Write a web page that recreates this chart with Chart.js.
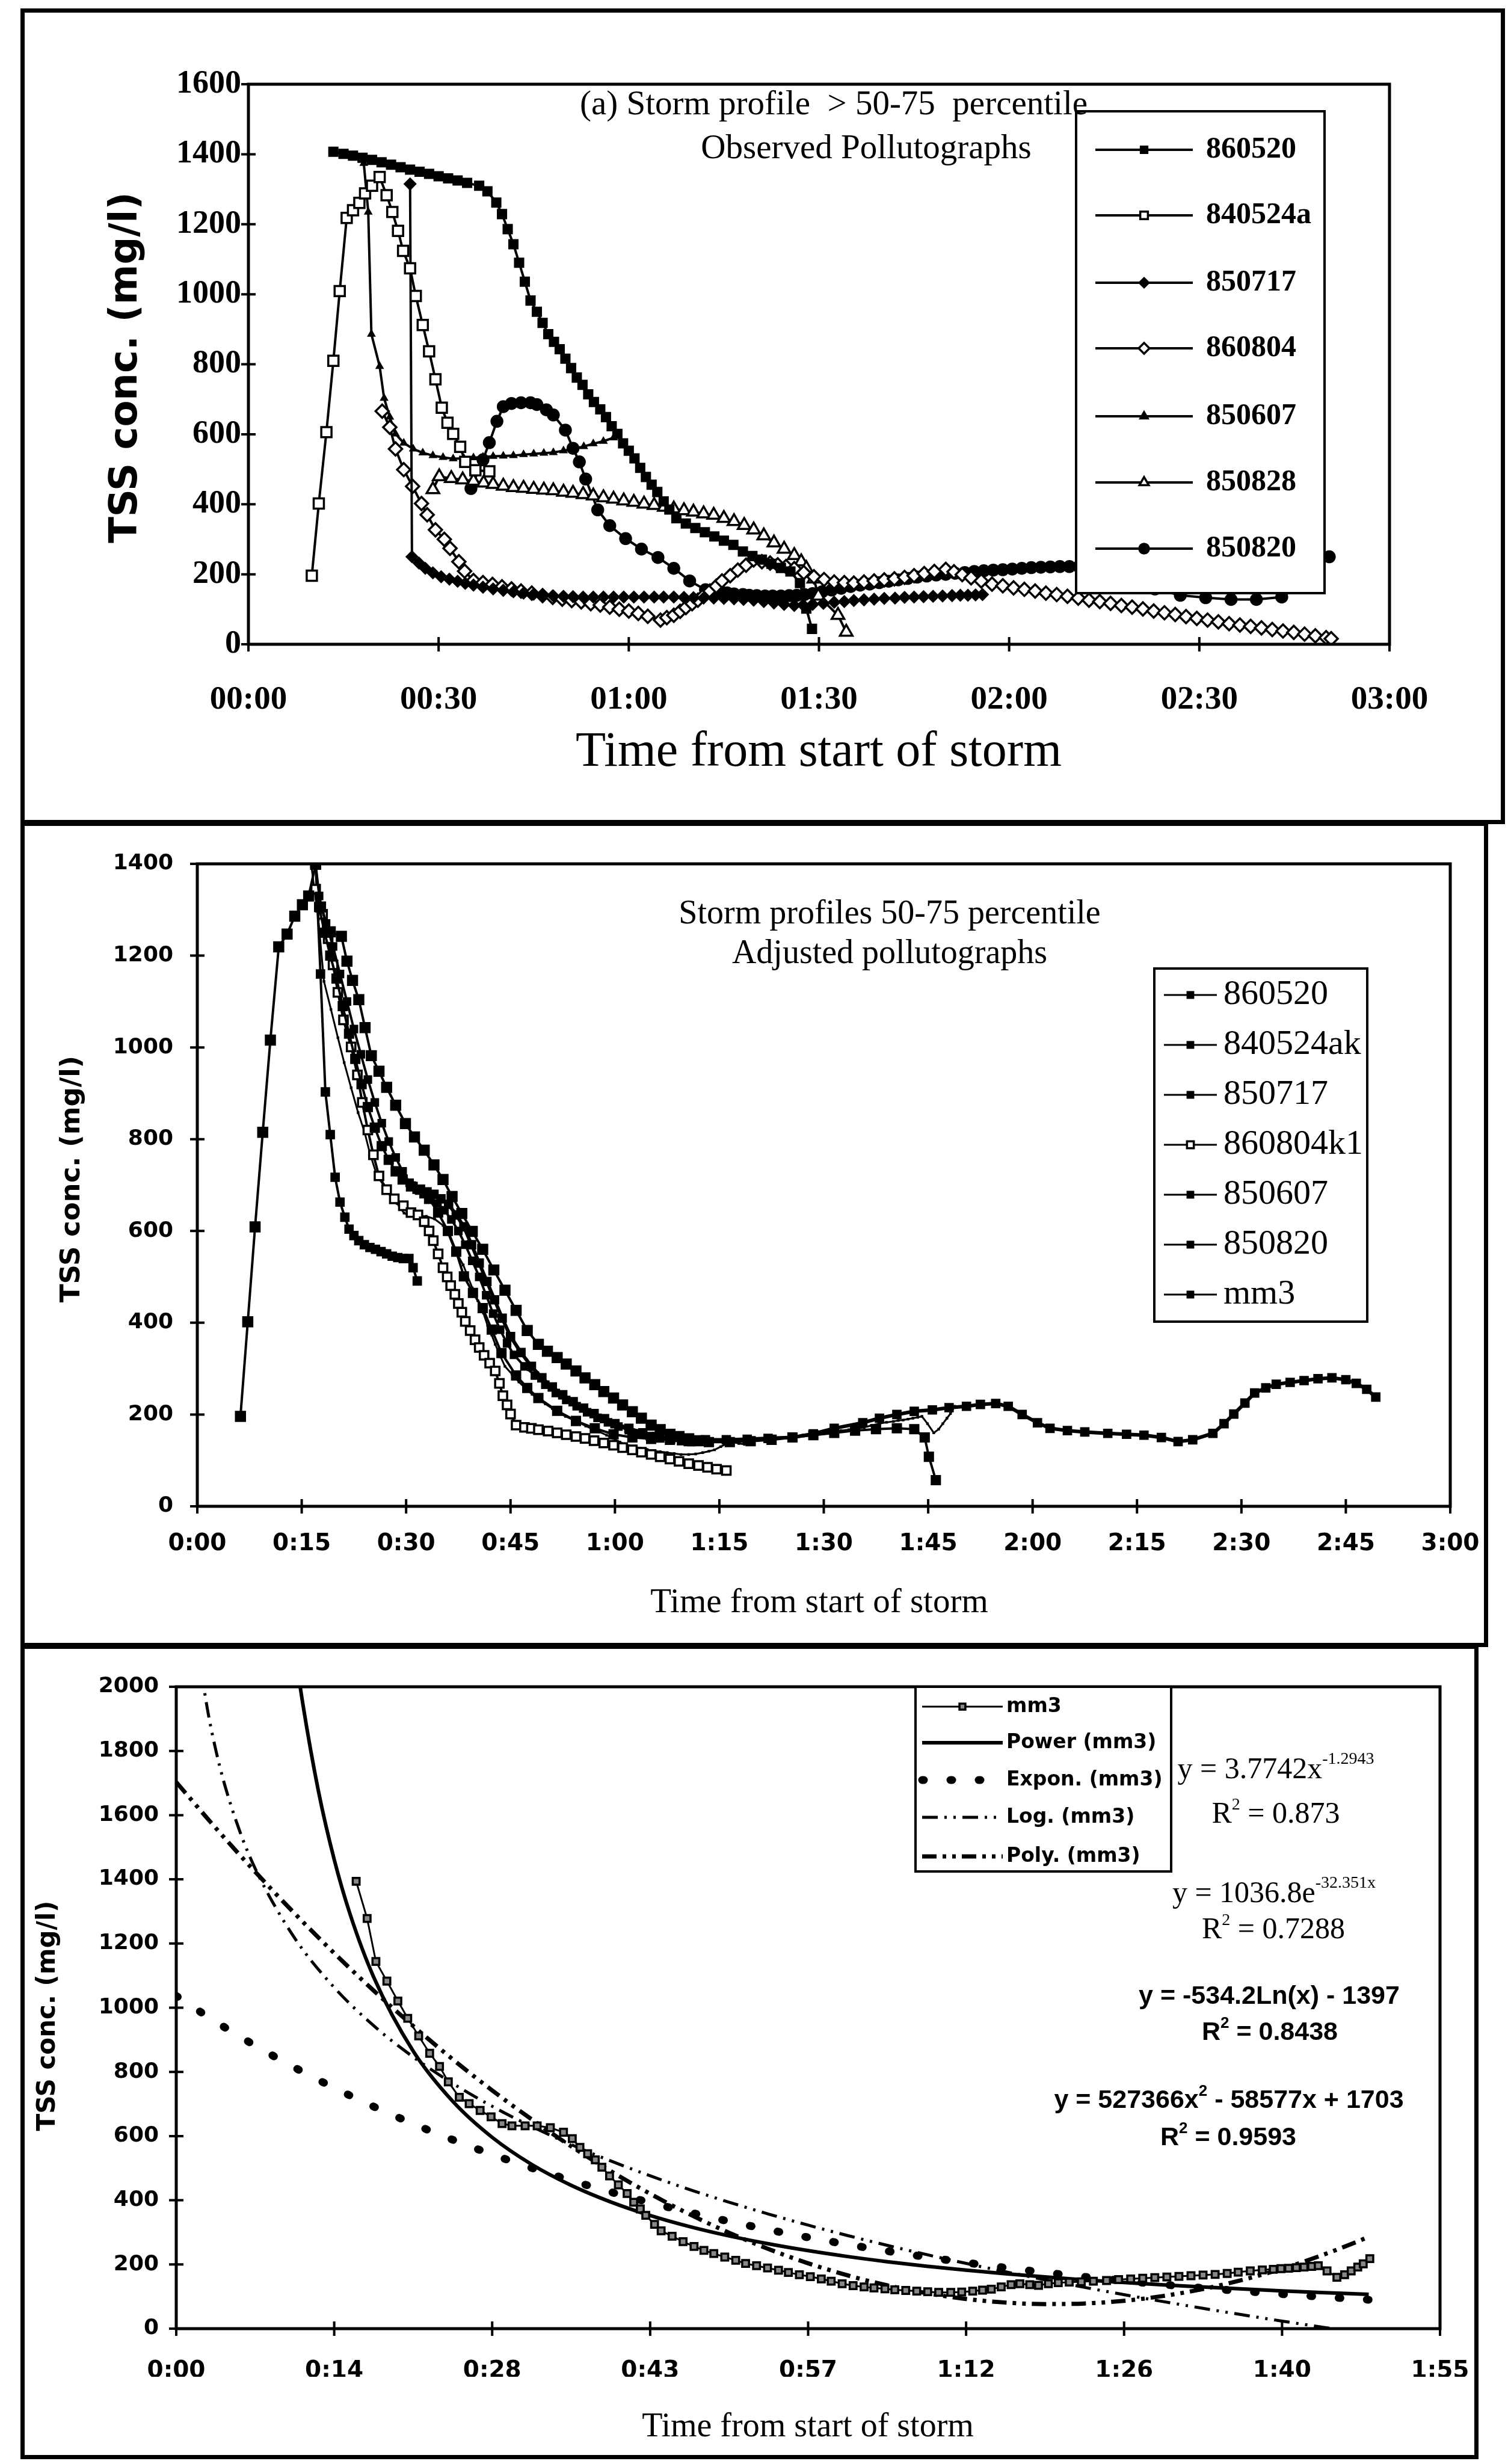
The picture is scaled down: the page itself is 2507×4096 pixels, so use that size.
<!DOCTYPE html>
<html>
<head>
<meta charset="utf-8">
<title>TSS pollutographs</title>
<script src="https://cdn.jsdelivr.net/npm/chart.js@4.4.1/dist/chart.umd.min.js"></script>
<style>
  html, body { margin: 0; padding: 0; background: #fff; }
  body { width: 2507px; height: 4096px; position: relative; overflow: hidden; }
  .panel { position: absolute; border: 7px solid #000; box-sizing: border-box; }
  canvas { position: absolute; left: 0; }
</style>
</head>
<body>
<div class="panel" style="left:34px;top:14px;width:2468px;height:1356px"></div>
<div class="panel" style="left:34px;top:1366px;width:2440px;height:1372px"></div>
<div class="panel" style="left:34px;top:2734px;width:2424px;height:1354px"></div>
<canvas id="observed" width="2507" height="1356" style="top:14px"></canvas>
<canvas id="adjusted" width="2507" height="1372" style="top:1366px"></canvas>
<canvas id="fitted" width="2507" height="1354" style="top:2734px"></canvas>
<script>
// ---- axes -------------------------------------------------------------
const obsXTicks = [0, 30, 60, 90, 120, 150, 180];
const obsXLabels = ['00:00', '00:30', '01:00', '01:30', '02:00', '02:30', '03:00'];
const obsYTicks = [0, 200, 400, 600, 800, 1000, 1200, 1400, 1600];

const adjXTicks = [0, 15, 30, 45, 60, 75, 90, 105, 120, 135, 150, 165, 180];
const adjXLabels = ['0:00', '0:15', '0:30', '0:45', '1:00', '1:15', '1:30', '1:45', '2:00', '2:15', '2:30', '2:45', '3:00'];
const adjYTicks = [0, 200, 400, 600, 800, 1000, 1200, 1400];

const fitXTicks = [0, 14.4, 28.8, 43.2, 57.6, 72, 86.4, 100.8, 115.2];
const fitXLabels = ['0:00', '0:14', '0:28', '0:43', '0:57', '1:12', '1:26', '1:40', '1:55'];
const fitYTicks = [0, 200, 400, 600, 800, 1000, 1200, 1400, 1600, 1800, 2000];

// ---- observed pollutographs (minutes from start, TSS mg/l) -------------
const obs860520T = [13.4, 15, 16.5, 18, 19.5, 21, 22.5, 24, 25.5, 27, 28.5, 30, 31.5, 33, 34.5, 36.4, 37.7, 39.1, 40, 40.9,
  41.8, 42.7, 43.6, 44.5, 45.5, 46.4, 47.3, 48.2, 49.1, 50, 50.9, 51.8, 52.7, 53.6, 54.5, 55.5, 56.4, 57.3, 58.2, 59.1,
  60, 60.9, 61.8, 62.7, 63.6, 64.5, 65.5, 66.4, 67.5, 69, 70.5, 72, 73.5, 75, 76.5, 78, 79.5, 81, 82.5, 84,
  85.5, 87, 88, 88.9];
const obs860520V = [1407, 1401, 1396, 1390, 1384, 1377, 1370, 1363, 1356, 1350, 1344, 1337, 1331, 1325, 1318, 1310, 1294, 1262, 1229, 1186,
  1143, 1090, 1036, 982, 950, 918, 886, 864, 843, 816, 789, 762, 741, 714, 692, 671, 649, 623, 601, 574,
  553, 531, 504, 478, 456, 435, 408, 385, 360, 345, 332, 320, 308, 296, 284, 265, 252, 242, 230, 218,
  208, 175, 102, 44];

const obs840524aT = [10, 11.1, 12.3, 13.4, 14.4, 15.5, 16.5, 17.5, 18.4, 19.5, 20.7, 21.8, 22.7, 23.6, 24.4, 25.5, 26.4, 27.5, 28.5, 29.5,
  30.5, 31.4, 32.3, 33.4, 34.2, 35.8, 38];
const obs840524aV = [196, 402, 606, 810, 1009, 1218, 1240, 1261, 1288, 1310, 1335, 1283, 1235, 1181, 1124, 1074, 995, 912, 837, 757,
  676, 633, 601, 564, 521, 497, 494];

const obs850717T = [25.5, 25.8, 26.9, 27.9, 29.1, 30.4, 31.7, 33, 34.2, 35.5, 37, 38.6, 40.2, 41.8, 43.4, 45, 46.5, 48.1, 49.7, 51.2,
  52.8, 54.4, 56, 57.6, 59.2, 60.8, 62.4, 64, 65.5, 67.1, 68.7, 70.2, 71.8, 73.4, 75, 76.6, 78.1, 79.7, 81.3, 82.9,
  84.5, 86.1, 87.5, 89, 90.7, 92.4, 94, 95.5, 97.1, 98.7, 100.3, 102, 103.5, 105, 106.5, 108, 109.5, 111, 112.3, 113.5,
  114.7, 115.8];
const obs850717V = [1315, 250, 232, 217, 204, 193, 186, 180, 174, 169, 163, 158, 154, 150, 146, 143, 140, 138, 137, 136,
  135, 135, 135, 135, 135, 135, 135, 135, 135, 135, 134, 133, 132, 132, 131, 130, 128, 126, 122, 118,
  114, 111, 112, 114, 117, 120, 122, 125, 127, 129, 131, 132, 134, 135, 136, 137, 138, 139, 140, 140,
  141, 142];

const obs860804T = [21.1, 22.3, 23.2, 24.5, 25.9, 27.3, 28.2, 29.5, 30.9, 31.8, 33.2, 34.1, 35.5, 37, 38.5, 40, 41.5, 43, 44.7, 46.4,
  48, 49.5, 51, 52.5, 54, 55.5, 57, 58.5, 60, 61.5, 63, 65, 66, 67.1, 68.1, 69, 70, 70.9, 71.8, 72.8,
  73.8, 74.7, 76, 77.2, 78.5, 79.7, 81, 82.3, 83.5, 84.8, 86.1, 87.6, 89.2, 90.8, 92.4, 94, 95.5, 97.1, 98.7, 100.3,
  101.9, 103.5, 105, 106.6, 108.2, 110, 111.3, 112.6, 114, 115.6, 117.3, 119, 120.7, 122.4, 124.1, 125.8, 127.5, 129.2, 130.9, 132.6,
  134.3, 136, 137.7, 139.4, 141.1, 142.8, 144.5, 146.2, 147.9, 149.6, 151.3, 153, 154.7, 156.4, 158.1, 159.8, 161.5, 163.2, 164.9, 166.6,
  168.3, 170, 170.8];
const obs860804V = [666, 620, 558, 499, 451, 402, 370, 327, 300, 274, 236, 209, 182, 176, 171, 164, 158, 152, 146, 139,
  134, 129, 125, 121, 116, 112, 106, 100, 95, 88, 80, 69, 76, 83, 94, 105, 116, 126, 139, 152,
  166, 181, 196, 212, 226, 241, 236, 232, 227, 222, 216, 205, 193, 185, 178, 176, 175, 178, 181, 184,
  187, 191, 196, 202, 208, 214, 207, 199, 190, 181, 172, 167, 161, 157, 152, 146, 142, 137, 132, 126,
  122, 117, 111, 106, 101, 95, 90, 85, 79, 74, 69, 64, 59, 55, 51, 47, 42, 38, 34, 29,
  24, 19, 16];

const obs850607T = [18.2, 18.9, 19.4, 20.7, 21.4, 22.3, 23.2, 24.5, 26, 27.5, 29.1, 30.7, 32.3, 34, 35.5, 37, 38.6, 40.2, 41.8, 43.4,
  45, 46.6, 48.1, 49.7, 51.3, 52.9, 54.4, 56, 57.6];
const obs850607V = [1374, 1235, 886, 794, 703, 649, 601, 575, 558, 547, 539, 534, 530, 531, 533, 535, 537, 538, 539, 542,
  544, 546, 548, 553, 558, 565, 573, 580, 590];

const obs850828T = [29.1, 30.1, 32, 33.8, 35.5, 37.1, 38.6, 40.2, 41.8, 43.4, 45, 46.6, 48.1, 49.7, 51.2, 52.8, 54.4, 56, 57.6, 59.2,
  60.8, 62.4, 64, 65.6, 67.1, 68.7, 70.2, 71.8, 73.4, 75, 76.6, 78.2, 79.7, 81.3, 82.9, 84.5, 86.1, 87.2, 88, 89.2,
  89.9, 93, 94.3];
const obs850828V = [442, 479, 474, 470, 466, 461, 457, 452, 448, 446, 443, 441, 439, 435, 432, 428, 424, 419, 415, 410,
  406, 401, 397, 392, 387, 382, 378, 373, 369, 360, 351, 340, 327, 310, 290, 272, 254, 236, 217, 187,
  138, 83, 35];

const obs850820T = [35.1, 37, 38, 39.2, 40.2, 41.5, 43, 44.5, 45.5, 47, 48.1, 50, 51.2, 52.2, 53.2, 55.1, 57, 59.5, 62, 64.6,
  67.1, 69.6, 72.1, 73.5, 74.5, 75.5, 76.6, 78, 79, 80.2, 81.5, 82.7, 84, 85.3, 86.5, 87.7, 89, 90.5, 92, 93.5,
  95, 96.5, 98, 99.5, 101, 102.5, 104, 105.5, 107, 108.5, 110, 111.5, 113, 114.5, 116, 117.5, 119, 120.5, 122, 123.5,
  125, 126.5, 128, 129.5, 131, 135, 139, 143, 147, 151, 155, 159, 163, 166, 168.5, 170.5];
const obs850820V = [445, 527, 576, 637, 679, 688, 690, 690, 685, 670, 655, 612, 560, 521, 472, 384, 339, 302, 272, 248,
  217, 181, 156, 152, 150, 147, 144, 142, 140, 139, 138, 138, 138, 139, 140, 142, 145, 150, 155, 160,
  165, 169, 172, 176, 180, 184, 188, 192, 195, 198, 200, 203, 205, 208, 210, 212, 213, 215, 217, 219,
  220, 221, 222, 222, 222, 210, 185, 158, 140, 133, 128, 128, 135, 170, 220, 250];

// ---- adjusted pollutographs ---------------------------------------------
const adj860520T = [6.2, 7.25, 8.3, 9.4, 10.5, 11.7, 12.9, 14, 15.1, 16, 17, 17.7, 19.1, 20.7, 21.5, 22.3, 23.2, 24.1, 25, 26.1,
  27.2, 28.5, 29.9, 31.2, 32.6, 34, 35.3, 36.6, 38, 39.5, 41, 42.6, 44.2, 45.8, 47.4, 49, 50.3, 51.7, 53, 54.4,
  55.7, 57.1, 58.4, 59.8, 61.1, 62.5, 63.8, 65.2, 66.5, 67.9, 69.2, 70.6, 72];
const adj860520V = [196, 402, 609, 815, 1016, 1219, 1247, 1286, 1311, 1330, 1399, 1306, 1252, 1242, 1188, 1146, 1104, 1043, 982, 948,
  913, 874, 834, 805, 776, 744, 712, 675, 638, 599, 560, 515, 471, 427, 383, 353, 338, 324, 310, 295,
  280, 265, 250, 236, 221, 206, 192, 177, 167, 157, 152, 147, 143];

const adj840524akT = [17.5, 18.5, 19.5, 20.5, 21.5, 22.5, 23.5, 24.5, 25.5, 26.5, 27.5, 28.5, 29.5, 30.5, 31.5, 32.5, 33.5, 34.5, 35.5, 36.5,
  37.5, 38.5, 39.5, 40.5, 41.5, 42.5, 43.5, 44.5, 45.5, 47, 48.5, 50, 51.5, 53, 54.5, 56, 57.5, 59, 60.5, 62,
  63.5, 65, 66.5, 68, 69.5, 71];
const adj840524akV = [1330, 1270, 1220, 1160, 1100, 1040, 985, 930, 880, 835, 795, 760, 730, 705, 690, 680, 670, 660, 645, 625,
  600, 570, 535, 500, 460, 420, 385, 355, 330, 305, 285, 265, 247, 232, 218, 205, 193, 183, 174, 166,
  159, 153, 148, 145, 142, 140];

const adj850717T = [17.5, 18.3, 19.1, 20, 20.9, 21.8, 22.7, 23.6, 24.5, 25.5, 26.5, 27.5, 28.5, 29.5, 30.7, 32, 33.3, 34.6, 36, 37.2,
  38.3, 39.6, 41, 42.3, 43.7, 45.8, 47.4, 49, 51.7, 54.4, 57.1, 59.8, 62.5, 65.2, 67.9, 70.6, 73.5, 76.5, 79.5, 82.5,
  85.5, 88.5, 91.5, 94.5, 97.5, 100.5, 103, 104.5, 105.1, 106.1];
const adj850717V = [1306, 1250, 1200, 1150, 1090, 1030, 975, 920, 870, 825, 785, 755, 730, 712, 697, 690, 670, 640, 600, 555,
  501, 465, 432, 385, 334, 285, 258, 236, 208, 186, 170, 157, 150, 147, 145, 142, 140, 140, 142, 145,
  150, 155, 160, 165, 168, 170, 168, 150, 108, 57];

const adj860804k1T = [17, 18, 18.8, 19.5, 20.2, 21, 22.1, 23, 23.7, 24.5, 25.3, 26.1, 27.2, 28.3, 29.6, 30.7, 31.7, 32.6, 33.3, 33.9,
  34.6, 35.3, 35.9, 36.4, 37, 37.5, 38, 38.5, 39.2, 39.9, 40.5, 41.2, 42, 42.8, 43.4, 43.9, 44.5, 45, 45.8, 47,
  48, 49, 50.4, 51.7, 53, 54.4, 55.7, 57, 58.4, 59.8, 61.1, 62.5, 63.8, 65.2, 66.5, 67.9, 69.2, 70.6, 72, 73.3,
  74.6, 76];
const adj860804k1V = [1345, 1290, 1237, 1180, 1120, 1060, 1001, 940, 880, 820, 766, 720, 690, 670, 655, 640, 635, 620, 600, 579,
  550, 520, 500, 481, 462, 442, 423, 403, 383, 363, 346, 329, 312, 295, 268, 241, 221, 201, 177, 172,
  170, 167, 164, 160, 156, 152, 148, 143, 138, 133, 128, 123, 118, 113, 108, 103, 98, 93, 89, 85,
  81, 78];

const adj850607T = [17, 17.7, 18.4, 19.1, 19.8, 20.5, 21.2, 21.8, 22.5, 23.2, 24, 24.8, 25.6, 26.4, 27.2, 28, 28.8, 29.6, 30.4, 31,
  31.6];
const adj850607V = [1399, 1160, 903, 810, 717, 663, 630, 604, 590, 579, 570, 564, 560, 555, 550, 545, 542, 540, 540, 520,
  491];

const adj850820T = [31, 32, 33, 34, 35, 36.1, 37.2, 38.3, 39.4, 40.5, 41.6, 42.7, 43.8, 45, 46.5, 48, 49.5, 51, 52.5, 54,
  55.5, 57, 58.5, 60, 62, 64, 66, 68, 70.4, 73, 76, 79, 82, 85.5, 88.5, 91.5, 95.6, 98, 100.5, 103,
  105.6, 108, 110.5, 112.5, 114.7, 116.5, 118.5, 120.7, 122.5, 125, 127.5, 130.8, 133.5, 136, 138.5, 140.9, 143, 145.9, 147.5, 148.9,
  150.5, 151.9, 153.5, 155, 157, 159, 161, 163, 165, 166.5, 168, 169.3];
const adj850820V = [697, 690, 685, 680, 670, 658, 635, 609, 570, 530, 490, 450, 410, 370, 335, 305, 280, 260, 243, 228,
  214, 202, 191, 180, 170, 160, 152, 147, 145, 145, 145, 146, 148, 150, 158, 170, 182, 192, 200, 207,
  210, 215, 218, 222, 224, 218, 200, 182, 170, 165, 162, 159, 157, 155, 150, 141, 145, 159, 180, 201,
  225, 247, 258, 266, 270, 274, 278, 280, 276, 268, 255, 238];

// mean profile, shared by the adjusted and fitted panels
const mm3T = [16.4, 17.4, 18.2, 19.2, 20.2, 21.1, 22.1, 23.1, 24, 24.8, 25.8, 26.7, 27.7, 28.7, 29.7, 30.6, 31.8, 32.9, 34.1, 35.3,
  36.1, 36.8, 37.5, 38.2, 38.8, 39.5, 40.3, 41.1, 41.7, 42.3, 42.8, 43.6, 44.2, 45.2, 46.2, 47.2, 48.1, 49, 50, 51,
  51.9, 52.9, 53.9, 54.9, 55.8, 56.8, 57.8, 58.8, 59.7, 60.7, 61.7, 62.7, 63.6, 64.6, 65.5, 66.5, 67.5, 68.5, 69.5, 70.6,
  71.6, 72.6, 73.5, 74.3, 75.2, 76.1, 76.9, 77.8, 78.6, 79.5, 80.4, 81.4, 82.5, 83.6, 84.8, 85.9, 87, 88.1, 89.2, 90.3,
  91.4, 92.5, 93.6, 94.7, 95.8, 96.8, 97.9, 99, 100, 100.7, 101.4, 102.1, 102.8, 103.5, 104.1, 104.9, 105.8, 106.5, 107.1, 107.7,
  108.2, 108.8];
const mm3V = [1394, 1278, 1144, 1083, 1021, 967, 912, 858, 817, 769, 721, 701, 680, 660, 639, 632, 632, 632, 626, 612,
  592, 565, 545, 526, 503, 476, 448, 421, 394, 373, 353, 325, 305, 288, 271, 256, 244, 234, 223, 213,
  203, 196, 189, 182, 175, 168, 162, 155, 148, 140, 134, 130, 127, 124, 121, 119, 117, 115, 113, 113,
  114, 117, 120, 123, 130, 137, 140, 137, 135, 140, 143, 145, 146, 148, 150, 153, 155, 157, 159, 161,
  163, 165, 167, 169, 172, 176, 180, 183, 185, 187, 188, 190, 192, 194, 196, 180, 160, 168, 180, 192,
  202, 218];

// ---- trend lines through mm3 -------------------------------------------
const powerT = [10.08, 10.8, 11.52, 12.96, 14.4, 15.84, 18, 21.6, 25.2, 28.8, 32.4, 36, 39.6, 43.2, 46.8, 50.4, 54, 57.6, 61.2, 64.8,
  68.4, 72, 75.6, 79.2, 82.8, 86.4, 90, 93.6, 97.2, 100.8, 104.4, 108, 108.7];
const powerV = [2318.9, 2120.8, 1950.7, 1675.1, 1461.6, 1292.1, 1095.1, 864.9, 708.5, 596.1, 511.8, 446.6, 394.8, 352.7, 318.0, 288.9, 264.3, 243.1, 224.7, 208.7,
  194.6, 182.1, 171.0, 161.0, 152.0, 143.8, 136.4, 129.7, 123.5, 117.8, 112.6, 107.8, 106.8];

const expT = [0, 3.6, 7.2, 10.8, 14.4, 18, 21.6, 25.2, 28.8, 32.4, 36, 39.6, 43.2, 46.8, 50.4, 54, 57.6, 61.2, 64.8, 68.4,
  72, 75.6, 79.2, 82.8, 86.4, 90, 93.6, 97.2, 100.8, 104.4, 108, 108.7];
const expV = [1036.8, 956.2, 881.9, 813.4, 750.2, 691.9, 638.2, 588.6, 542.9, 500.7, 461.8, 425.9, 392.8, 362.3, 334.2, 308.2, 284.3, 262.2, 241.8, 223.0,
  205.7, 189.7, 175.0, 161.4, 148.8, 137.3, 126.6, 116.8, 107.7, 99.3, 91.6, 90.1];

const logT = [2.16, 2.88, 3.6, 4.32, 5.76, 7.2, 10.8, 14.4, 18, 21.6, 25.2, 28.8, 32.4, 36, 39.6, 43.2, 46.8, 50.4, 54, 57.6,
  61.2, 64.8, 68.4, 72, 75.6, 79.2, 82.8, 86.4, 90, 93.6, 97.2, 100.8, 104.4, 108, 108.7];
const logV = [2076.5, 1922.8, 1803.7, 1706.2, 1552.6, 1433.4, 1216.8, 1063.1, 943.9, 846.5, 764.2, 692.8, 629.9, 573.6, 522.7, 476.2, 433.4, 393.9, 357.0, 322.5,
  290.1, 259.6, 230.7, 203.3, 177.2, 152.4, 128.6, 105.9, 84.1, 63.2, 43.0, 23.6, 4.9, -13.3, -16.9];

const polyT = expT;
const polyV = [1703, 1559.9, 1423.3, 1293.4, 1170.0, 1053.2, 943.0, 839.4, 742.4, 652.0, 568.2, 490.9, 420.3, 356.2, 298.8, 248.0, 203.7, 166.0, 134.9, 110.5,
  92.5, 81.3, 76.6, 78.4, 86.9, 101.9, 123.6, 151.9, 186.7, 228.2, 276.1, 286.5];

// ---- helpers -------------------------------------------------------------
const SERIF = '"Liberation Serif", "Times New Roman", serif';
const WIDE = '"DejaVu Sans", Verdana, sans-serif';
const SANS = '"Liberation Sans", Arial, sans-serif';

function pts(t, v) { return t.map((x, i) => ({ x, y: v[i] })); }

function marked(label, t, v, style, radius, fill, width) {
  return {
    label, data: pts(t, v),
    borderColor: '#000', borderWidth: width || 4,
    pointStyle: style, pointRadius: radius, pointHoverRadius: radius,
    pointBackgroundColor: fill, pointBorderColor: '#000',
    pointBorderWidth: fill === '#000' ? 1.5 : 3.5,
    tension: 0
  };
}

function trend(label, t, v, width, dash, cap) {
  return {
    label, data: pts(t, v),
    borderColor: '#000', borderWidth: width, borderDash: dash, borderCapStyle: cap || 'butt',
    pointRadius: 0, cubicInterpolationMode: 'monotone'
  };
}

// plot frame plus small ticks crossing both axes
const framePlugin = {
  id: 'frame',
  afterDatasetsDraw(chart) {
    const { ctx, chartArea: a, scales: { x, y } } = chart;
    const k = 12;
    ctx.save();
    ctx.strokeStyle = '#000';
    ctx.lineWidth = 5;
    ctx.strokeRect(a.left, a.top, a.right - a.left, a.bottom - a.top);
    ctx.lineWidth = 4;
    ctx.beginPath();
    x.ticks.forEach(t => {
      const px = x.getPixelForValue(t.value);
      ctx.moveTo(px, a.bottom - k); ctx.lineTo(px, a.bottom + k);
    });
    y.ticks.forEach(t => {
      const py = y.getPixelForValue(t.value);
      ctx.moveTo(a.left - k, py); ctx.lineTo(a.left + k, py);
    });
    ctx.stroke();
    ctx.restore();
  }
};

function text(ctx, s, x, y, font) {
  ctx.font = font;
  ctx.fillStyle = '#000';
  ctx.textAlign = 'center';
  ctx.textBaseline = 'alphabetic';
  ctx.fillText(s, x, y);
}

function vtext(ctx, s, x, y, font) {
  ctx.save();
  ctx.translate(x, y);
  ctx.rotate(-Math.PI / 2);
  ctx.font = font;
  ctx.fillStyle = '#000';
  ctx.textAlign = 'center';
  ctx.textBaseline = 'middle';
  ctx.fillText(s, 0, 0);
  ctx.restore();
}

// centred text made of normal and superscript pieces
function rich(ctx, parts, cx, y, font, supFont, rise) {
  let w = 0;
  parts.forEach(([s, sup]) => { ctx.font = sup ? supFont : font; w += ctx.measureText(s).width; });
  let x = cx - w / 2;
  ctx.fillStyle = '#000';
  ctx.textAlign = 'left';
  ctx.textBaseline = 'alphabetic';
  parts.forEach(([s, sup]) => {
    ctx.font = sup ? supFont : font;
    ctx.fillText(s, x, sup ? y - rise : y);
    x += ctx.measureText(s).width;
  });
}

// legend box drawn from the chart's own datasets
function legendBox(chart, b) {
  const ctx = chart.ctx;
  ctx.save();
  ctx.fillStyle = '#fff';
  ctx.fillRect(b.left, b.top, b.right - b.left, b.bottom - b.top);
  ctx.strokeStyle = '#000';
  ctx.lineWidth = b.border;
  ctx.strokeRect(b.left, b.top, b.right - b.left, b.bottom - b.top);
  chart.data.datasets.forEach((ds, i) => {
    const y = b.rows[i];
    ctx.strokeStyle = '#000';
    ctx.lineWidth = b.lineWidth || ds.borderWidth;
    ctx.setLineDash(ds.borderDash || []);
    ctx.lineCap = ds.borderCapStyle || 'butt';
    ctx.beginPath();
    ctx.moveTo(b.x0, y);
    ctx.lineTo(b.x1, y);
    ctx.stroke();
    ctx.setLineDash([]);
    ctx.lineCap = 'butt';
    if (ds.pointRadius > 0) {
      ctx.fillStyle = ds.pointBackgroundColor;
      ctx.lineWidth = ds.pointBorderWidth;
      Chart.helpers.drawPoint(ctx, {
        pointStyle: ds.pointStyle, radius: b.markR || ds.pointRadius,
        rotation: 0, borderWidth: ds.pointBorderWidth
      }, (b.x0 + b.x1) / 2, y);
    }
    ctx.fillStyle = '#000';
    ctx.font = b.font;
    ctx.textAlign = 'left';
    ctx.textBaseline = 'middle';
    ctx.fillText(ds.label, b.textX, y);
  });
  ctx.restore();
}

function makeChart(id, cfg) {
  const canvas = document.getElementById(id);
  const W = canvas.width, H = canvas.height, a = cfg.area, xs = cfg.x, ys = cfg.y;
  return new Chart(canvas, {
    type: 'line',
    data: { datasets: cfg.datasets },
    options: {
      responsive: false,
      animation: false,
      devicePixelRatio: 1,
      events: [],
      layout: { padding: { left: 0, top: a.top, right: W - a.right, bottom: H - a.bottom - xs.height } },
      plugins: { legend: { display: false }, tooltip: { enabled: false } },
      scales: {
        x: {
          type: 'linear',
          min: xs.ticks[0], max: xs.ticks[xs.ticks.length - 1],
          afterBuildTicks: s => { s.ticks = xs.ticks.map(value => ({ value })); },
          afterFit: s => { s.height = xs.height; },
          grid: { display: false, drawTicks: false },
          border: { display: false },
          ticks: {
            autoSkip: false, maxRotation: 0, minRotation: 0, padding: xs.pad,
            font: xs.font, color: '#000', callback: (v, i) => xs.labels[i]
          }
        },
        y: {
          type: 'linear',
          min: ys.ticks[0], max: ys.ticks[ys.ticks.length - 1],
          afterBuildTicks: s => { s.ticks = ys.ticks.map(value => ({ value })); },
          afterFit: s => { s.width = a.left; },
          grid: { display: false, drawTicks: false },
          border: { display: false },
          ticks: { autoSkip: false, padding: ys.pad, font: ys.font, color: '#000', callback: v => String(v) }
        }
      }
    },
    plugins: [framePlugin, { id: 'deco', afterDraw: cfg.deco }]
  });
}

// ---- (a) observed ----------------------------------------------------------
makeChart('observed', {
  area: { left: 413, top: 126, right: 2310, bottom: 1057 },
  x: { ticks: obsXTicks, labels: obsXLabels, height: 110, pad: 60, font: { family: SERIF, size: 55, weight: 'bold' } },
  y: { ticks: obsYTicks, pad: 12, font: { family: SERIF, size: 54, weight: 'bold' } },
  datasets: [
    marked('860520', obs860520T, obs860520V, 'rect', 11, '#000'),
    marked('840524a', obs840524aT, obs840524aV, 'rect', 12, '#fff'),
    marked('850717', obs850717T, obs850717V, 'rectRot', 10, '#000'),
    marked('860804', obs860804T, obs860804V, 'rectRot', 11, '#fff'),
    marked('850607', obs850607T, obs850607V, 'triangle', 7, '#000'),
    marked('850828', obs850828T, obs850828V, 'triangle', 12, '#fff'),
    marked('850820', obs850820T, obs850820V, 'circle', 10, '#000')
  ],
  deco(chart) {
    const ctx = chart.ctx;
    legendBox(chart, {
      left: 1789, right: 2202, top: 171, bottom: 972, border: 4,
      rows: [235, 344, 456, 565, 678, 788, 898],
      x0: 1821, x1: 1983, textX: 2005, lineWidth: 4, markR: 9,
      font: 'bold 50px ' + SERIF
    });
    text(ctx, '(a) Storm profile  > 50-75  percentile', 1386, 176, '57px ' + SERIF);
    text(ctx, 'Observed Pollutographs', 1440, 249, '57px ' + SERIF);
    text(ctx, 'Time from start of storm', 1361, 1259, '82px ' + SERIF);
    vtext(ctx, 'TSS conc. (mg/l)', 210, 597, 'bold 64px ' + WIDE);
  }
});

// ---- adjusted ----------------------------------------------------------------
makeChart('adjusted', {
  area: { left: 328, top: 70, right: 2411, bottom: 1138 },
  x: { ticks: adjXTicks, labels: adjXLabels, height: 80, pad: 39, font: { family: WIDE, size: 39, weight: 'bold' } },
  y: { ticks: adjYTicks, pad: 40, font: { family: WIDE, size: 36, weight: 'bold' } },
  datasets: [
    marked('860520', adj860520T, adj860520V, 'rect', 12, '#000'),
    marked('840524ak', adj840524akT, adj840524akV, 'rect', 9, '#000'),
    marked('850717', adj850717T, adj850717V, 'rect', 11, '#000'),
    marked('860804k1', adj860804k1T, adj860804k1V, 'rect', 10, '#fff'),
    marked('850607', adj850607T, adj850607V, 'rect', 10, '#000'),
    marked('850820', adj850820T, adj850820V, 'rect', 10, '#000', 6),
    marked('mm3', mm3T, mm3V, 'rect', 2, '#000', 3)
  ],
  deco(chart) {
    const ctx = chart.ctx;
    legendBox(chart, {
      left: 1919, right: 2273, top: 244, bottom: 831, border: 4,
      rows: [288, 371, 454, 537, 620, 703, 786],
      x0: 1935, x1: 2023, textX: 2034, lineWidth: 3, markR: 8,
      font: '58px ' + SERIF
    });
    text(ctx, 'Storm profiles 50-75 percentile', 1479, 169, '56px ' + SERIF);
    text(ctx, 'Adjusted pollutographs', 1479, 235, '56px ' + SERIF);
    text(ctx, 'Time from start of storm', 1362, 1314, '57px ' + SERIF);
    vtext(ctx, 'TSS conc. (mg/l)', 120, 594, 'bold 45px ' + WIDE);
  }
});

// ---- mm3 with fitted trend lines ----------------------------------------------
makeChart('fitted', {
  area: { left: 293, top: 70, right: 2394, bottom: 1137 },
  x: { ticks: fitXTicks, labels: fitXLabels, height: 80, pad: 47, font: { family: WIDE, size: 39, weight: 'bold' } },
  y: { ticks: fitYTicks, pad: 29, font: { family: WIDE, size: 36, weight: 'bold' } },
  datasets: [
    marked('mm3', mm3T, mm3V, 'rect', 8, '#888', 3),
    trend('Power (mm3)', powerT, powerV, 6, []),
    trend('Expon. (mm3)', expT, expV, 13, [3, 44], 'round'),
    trend('Log. (mm3)', logT, logV, 5, [26, 11, 4, 11, 4, 11]),
    trend('Poly. (mm3)', polyT, polyV, 7, [24, 10, 6, 10, 6, 10])
  ],
  deco(chart) {
    const ctx = chart.ctx;
    legendBox(chart, {
      left: 1522, right: 1947, top: 70, bottom: 377, border: 4,
      rows: [103, 163, 225, 287, 352],
      x0: 1533, x1: 1667, textX: 1673, markR: 7,
      font: 'bold 33px ' + WIDE
    });
    const ser = '50px ' + SERIF, serSup = '28px ' + SERIF;
    rich(ctx, [['y = 3.7742x', false], ['-1.2943', true]], 2121, 222, ser, serSup, 24);
    rich(ctx, [['R', false], ['2', true], [' = 0.873', false]], 2121, 296, ser, serSup, 22);
    rich(ctx, [['y = 1036.8e', false], ['-32.351x', true]], 2118, 428, ser, serSup, 24);
    rich(ctx, [['R', false], ['2', true], [' = 0.7288', false]], 2117, 488, ser, serSup, 22);
    const sans = 'bold 43px ' + SANS, sansSup = 'bold 26px ' + SANS;
    rich(ctx, [['y = -534.2Ln(x) - 1397', false]], 2110, 597, sans, sansSup, 20);
    rich(ctx, [['R', false], ['2', true], [' = 0.8438', false]], 2111, 657, sans, sansSup, 20);
    rich(ctx, [['y = 527366x', false], ['2', true], [' - 58577x + 1703', false]], 2043, 770, sans, sansSup, 20);
    rich(ctx, [['R', false], ['2', true], [' = 0.9593', false]], 2042, 832, sans, sansSup, 20);
    text(ctx, 'Time from start of storm', 1343, 1316, '56px ' + SERIF);
    vtext(ctx, 'TSS conc. (mg/l)', 80, 617, 'bold 42px ' + WIDE);
  }
});
</script>
</body>
</html>
